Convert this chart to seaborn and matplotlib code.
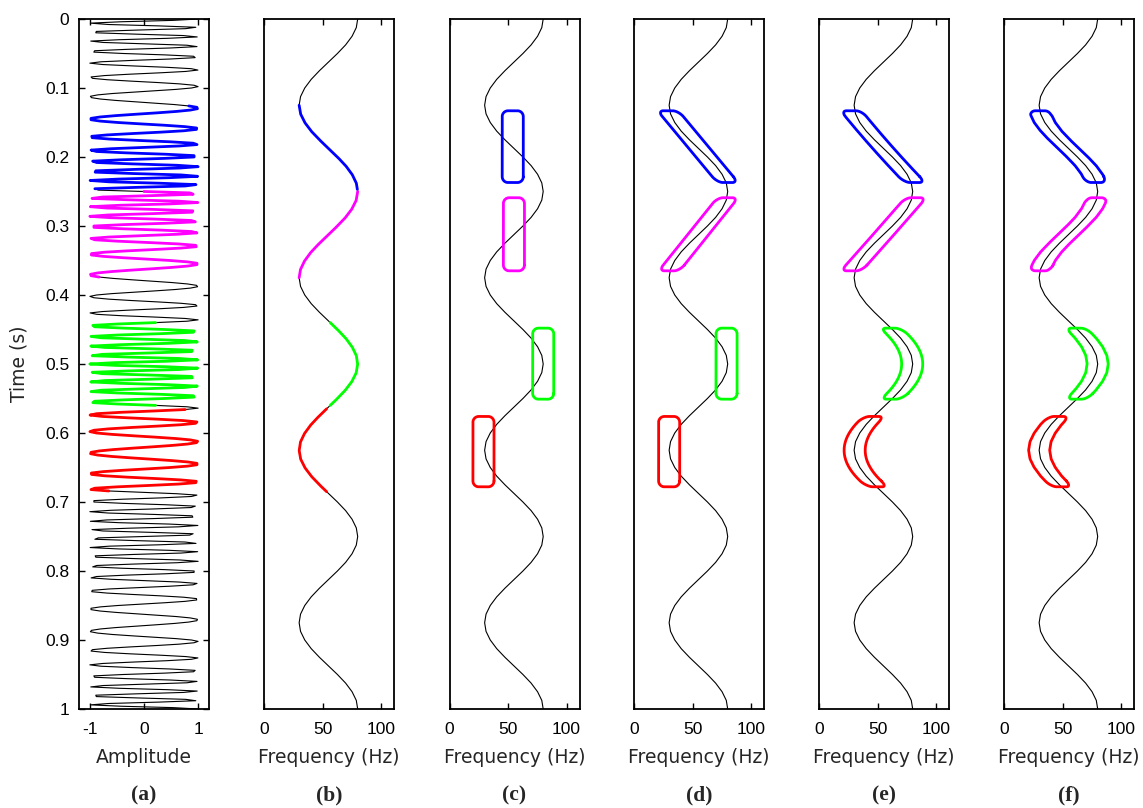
import numpy as np
import matplotlib
matplotlib.use("Agg")
import matplotlib.pyplot as plt
import seaborn as sns

sns.set_style("white")
plt.rcParams["font.family"] = ["Liberation Sans", "DejaVu Sans"]

# ---------------- data ----------------
time_knots = [round(0.0125 * i, 4) for i in range(81)]
freq_knots = [
    80.0, 78.8, 75.2, 69.7, 62.7, 55.0, 47.3, 40.3, 34.8, 31.2,
    30.0, 31.2, 34.8, 40.3, 47.3, 55.0, 62.7, 69.7, 75.2, 78.8,
    80.0, 78.8, 75.2, 69.7, 62.7, 55.0, 47.3, 40.3, 34.8, 31.2,
    30.0, 31.2, 34.8, 40.3, 47.3, 55.0, 62.7, 69.7, 75.2, 78.8,
    80.0, 78.8, 75.2, 69.7, 62.7, 55.0, 47.3, 40.3, 34.8, 31.2,
    30.0, 31.2, 34.8, 40.3, 47.3, 55.0, 62.7, 69.7, 75.2, 78.8,
    80.0, 78.8, 75.2, 69.7, 62.7, 55.0, 47.3, 40.3, 34.8, 31.2,
    30.0, 31.2, 34.8, 40.3, 47.3, 55.0, 62.7, 69.7, 75.2, 78.8,
    80.0,
]
sample_step = 0.002            # sampling interval of the trace (s)

seg_colors = ["#0000ff", "#ff00ff", "#00ff00", "#ff0000"]
seg_t0 = [0.125, 0.250, 0.440, 0.565]
seg_t1 = [0.247, 0.375, 0.560, 0.685]

box_t0 = [0.133, 0.259, 0.448, 0.576]
box_t1 = [0.237, 0.365, 0.551, 0.678]
box_half_width_hz = 9.0
c_center = [54.0, 55.0, 80.0, 29.0]        # panel (c) constant frequency
d_start = [29.0, 80.0, 79.0, 30.0]         # panel (d) linear: start frequency
d_end = [80.0, 30.0, 79.0, 30.0]           # panel (d) linear: end frequency

amp_ticks = [-1, 0, 1]
freq_ticks = [0, 50, 100]
time_ticks = [0, 0.1, 0.2, 0.3, 0.4, 0.5, 0.6, 0.7, 0.8, 0.9, 1.0]
time_tick_labels = ["0", "0.1", "0.2", "0.3", "0.4", "0.5", "0.6", "0.7", "0.8", "0.9", "1"]
panel_letters = ["(a)", "(b)", "(c)", "(d)", "(e)", "(f)"]

# ---------------- derived quantities ----------------
tk = np.array(time_knots)
fk = np.array(freq_knots)
t_fine = np.linspace(0, 1, 8001)
f_fine = np.interp(t_fine, tk, fk)
phase = np.concatenate([[0], np.cumsum(0.5 * (f_fine[1:] + f_fine[:-1]) * np.diff(t_fine))]) * 2 * np.pi
t_sig = np.arange(0, 1 + 1e-9, sample_step)
sig = np.cos(np.interp(t_sig, t_fine, phase))

# ---------------- layout ----------------
W, H = 1143, 808
fig = plt.figure(figsize=(W / 100, H / 100), dpi=100)
ax_w, ax_top, ax_bot = 130, 19, 709
lefts = [79, 264, 449.5, 634, 819, 1004]
xmax_f = 111
label_font = dict(fontsize=13.5, family=["DejaVu Sans"])

axes = [fig.add_axes([l / W, (H - ax_bot) / H, ax_w / W, (ax_bot - ax_top) / H]) for l in lefts]
sx = ax_w / xmax_f                 # px per Hz
sy = (ax_bot - ax_top) / 1.0       # px per s


def style(ax):
    for s in ax.spines.values():
        s.set_visible(True)
        s.set_linewidth(1.3)
        s.set_color("black")
    ax.set_ylim(1, 0)


def lp(ax, x, y, color, lw):
    sns.lineplot(x=np.asarray(x), y=np.asarray(y), sort=False, estimator=None,
                 color=color, linewidth=lw, ax=ax, legend=False)


def rounded_rect(w, h, r, n=24):
    pts = []
    for cx, cy, a0 in [(w - r, h - r, 0), (-(w - r), h - r, 90),
                       (-(w - r), -(h - r), 180), (w - r, -(h - r), 270)]:
        a = np.deg2rad(np.linspace(a0, a0 + 90, n))
        pts.append(np.c_[cx + r * np.cos(a), cy + r * np.sin(a)])
    pts = np.vstack(pts)
    pts = np.vstack([pts, pts[:1]])
    dense = []
    for p, q in zip(pts[:-1], pts[1:]):
        m = max(2, int(np.ceil(np.hypot(*(q - p)))) + 1)
        s = np.linspace(0, 1, m)[:-1]
        dense.append(p + np.outer(s, q - p))
    dense.append(pts[-1:])
    return np.vstack(dense)


def band(ax, t0, t1, center_fn, color):
    tm = 0.5 * (t0 + t1)
    h = 0.5 * (t1 - t0) * sy
    w = box_half_width_hz * sx
    uv = rounded_rect(w, h, 0.55 * w)
    tt = tm + uv[:, 1] / sy
    ff = center_fn(tt) + uv[:, 0] / sx
    lp(ax, ff, tt, color, 2.0)


# ---- panel (a)
ax = axes[0]
lp(ax, sig, t_sig, "black", 0.8)
for c, a0, a1 in zip(seg_colors, seg_t0, seg_t1):
    m = (t_sig >= a0) & (t_sig <= a1)
    lp(ax, sig[m], t_sig[m], c, 2.0)
style(ax)
ax.set_xlim(-1.2, 1.2)
ax.set_xticks(amp_ticks)
ax.set_xticklabels([str(v) for v in amp_ticks])
ax.set_yticks(time_ticks)
ax.set_yticklabels(time_tick_labels)
ax.tick_params(direction="in", top=True, right=True, bottom=True, left=True,
               length=4, width=1, labelsize=12.5, colors="black")
ax.tick_params(axis="x", pad=9.5)
ax.tick_params(axis="y", pad=7)
ax.set_xlabel("Amplitude", labelpad=8, **label_font)
ax.set_ylabel("Time (s)", labelpad=12, **label_font)

# ---- panels (b)-(f)
for i, ax in enumerate(axes[1:], start=1):
    lp(ax, fk, tk, "black", 0.8)
    style(ax)
    ax.set_xlim(0, xmax_f)
    ax.set_xticks(freq_ticks)
    ax.set_xticklabels([str(v) for v in freq_ticks])
    ax.set_yticks([])
    ax.tick_params(direction="in", top=True, bottom=True, left=False, right=False,
                   length=4, width=1, labelsize=12.5, pad=9.5, colors="black")
    ax.set_xlabel("Frequency (Hz)", labelpad=8, **label_font)
    ax.set_ylabel("")

# (b) coloured segments of the curve
for c, a0, a1 in zip(seg_colors, seg_t0, seg_t1):
    m = (t_fine >= a0) & (t_fine <= a1)
    lp(axes[1], f_fine[m], t_fine[m], c, 2.0)

for k in range(4):
    t0, t1, col = box_t0[k], box_t1[k], seg_colors[k]
    # (c) constant frequency
    band(axes[2], t0, t1, lambda t, v=c_center[k]: np.full_like(t, v), col)
    # (d) linear
    band(axes[3], t0, t1,
         lambda t, a=d_start[k], b=d_end[k], s=t0, e=t1: a + (b - a) * (t - s) / (e - s), col)
    # (e) quadratic fit of the curve
    m = (t_fine >= t0) & (t_fine <= t1)
    coef = np.polyfit(t_fine[m], f_fine[m], 2)
    band(axes[4], t0, t1, lambda t, cf=coef: np.polyval(cf, t), col)
    # (f) exact curve
    band(axes[5], t0, t1, lambda t: np.interp(t, tk, fk), col)

for l, txt in zip(lefts, panel_letters):
    fig.text((l + ax_w / 2) / W, 1 - 795 / H, txt, ha="center", va="center",
             fontsize=15.5, fontweight="bold", family=["Liberation Serif", "DejaVu Serif"])

fig.savefig("out.png", dpi=100)
